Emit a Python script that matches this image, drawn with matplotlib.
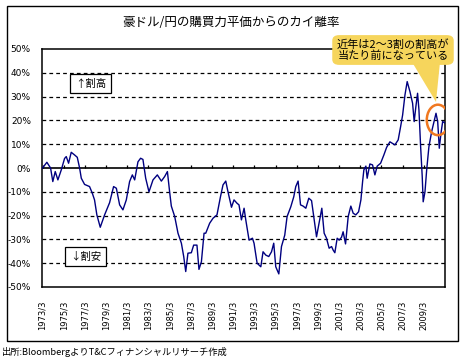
import numpy as np
import matplotlib
matplotlib.use("Agg")
import matplotlib.pyplot as plt
from matplotlib.patches import Rectangle, FancyBboxPatch, Polygon, Ellipse

plt.rcParams['font.family'] = ['Noto Sans CJK JP', 'DejaVu Sans']

# データ (年の小数表示, カイ離率 %)
years = [1973.25, 1973.66, 1974.01, 1974.22, 1974.45, 1974.70, 1975.02, 1975.33, 1975.49, 1975.71,
         1975.96, 1976.27, 1976.53, 1976.75, 1976.91, 1977.22, 1977.69, 1977.95, 1978.16, 1978.38,
         1978.70, 1979.11, 1979.58, 1979.96, 1980.22, 1980.53, 1980.84, 1981.16, 1981.47, 1981.73,
         1981.95, 1982.26, 1982.51, 1982.73, 1982.99, 1983.30, 1983.68, 1984.09, 1984.47, 1984.78,
         1985.04, 1985.25, 1985.41, 1985.73, 1986.04, 1986.36, 1986.58, 1986.77, 1986.98, 1987.30,
         1987.52, 1987.83, 1988.02, 1988.25, 1988.50, 1988.66, 1989.03, 1989.35, 1989.72, 1990.05,
         1990.29, 1990.55, 1990.76, 1991.09, 1991.33, 1991.61, 1991.80, 1992.03, 1992.28, 1992.44,
         1992.75, 1993.07, 1993.22, 1993.51, 1993.86, 1994.07, 1994.33, 1994.61, 1994.87, 1995.08,
         1995.27, 1995.56, 1995.81, 1996.12, 1996.34, 1996.69, 1996.97, 1997.16, 1997.38, 1997.61,
         1997.85, 1998.11, 1998.39, 1998.65, 1998.86, 1999.12, 1999.36, 1999.62, 1999.84, 2000.06,
         2000.31, 2000.54, 2000.69, 2000.85, 2001.07, 2001.26, 2001.48, 2001.63, 2001.86, 2002.11,
         2002.36, 2002.58, 2002.83, 2003.09, 2003.31, 2003.47, 2003.59, 2003.78, 2003.90, 2004.16,
         2004.41, 2004.63, 2004.85, 2005.17, 2005.48, 2005.74, 2006.05, 2006.27, 2006.52, 2006.83,
         2007.06, 2007.25, 2007.47, 2007.68, 2007.94, 2008.19, 2008.34, 2008.50, 2008.66, 2008.79,
         2008.95, 2009.10, 2009.19, 2009.36, 2009.52, 2009.73, 2009.99, 2010.21, 2010.40, 2010.56,
         2010.71, 2010.87, 2011.03, 2011.25]
kairi = [0.0, 2.4, 0.0, -5.7, -1.5, -5.0, -0.8, 4.0, 4.8, 2.0,
         6.6, 5.5, 4.5, 0.0, -4.3, -6.9, -7.8, -10.6, -13.4, -19.7,
         -24.9, -19.7, -14.6, -7.8, -8.5, -15.5, -17.6, -13.4, -5.7, -2.9,
         -5.0, 2.6, 4.1, 3.6, -4.3, -10.0, -5.0, -2.9, -5.5, -3.6,
         -1.5, -10.0, -16.0, -20.4, -27.4, -31.6, -37.2, -43.5, -35.8, -35.6,
         -32.4, -32.4, -42.6, -39.4, -27.4, -27.4, -23.2, -21.1, -19.7, -12.1,
         -7.1, -5.5, -10.0, -16.5, -13.4, -14.8, -15.5, -21.8, -16.9, -21.8,
         -30.3, -29.5, -31.6, -40.0, -41.5, -35.2, -36.6, -37.2, -35.2, -31.6,
         -41.5, -44.5, -33.0, -28.2, -20.4, -16.3, -12.1, -7.8, -5.5, -15.5,
         -16.0, -16.9, -12.7, -13.7, -20.4, -28.9, -23.2, -16.9, -27.4, -29.5,
         -33.7, -33.0, -34.5, -35.6, -29.5, -30.3, -29.1, -26.8, -31.9, -20.4,
         -16.0, -19.0, -19.7, -18.4, -13.4, -5.7, -0.8, 0.8, -4.3, 1.7,
         1.3, -2.9, 0.8, 2.0, 5.5, 8.7, 11.0, 10.4, 9.7, 11.8,
         17.4, 22.3, 30.7, 36.3, 32.1, 27.2, 19.5, 25.8, 31.4, 24.4,
         8.9, -3.6, -14.2, -10.0, -0.8, 8.9, 15.3, 19.5, 23.0, 19.5,
         8.3, 14.6, 19.5, 18.9]

tick_years = list(range(1973, 2010, 2))
tick_labels = [f"{y}/3" for y in tick_years]
tick_pos = [y + 0.25 for y in tick_years]
yticks = list(range(-50, 51, 10))

W, H = 468, 362
fig = plt.figure(figsize=(W / 100, H / 100), dpi=100)

def fx(x):
    return x / W

def fy(y):
    return 1 - y / H

ax = fig.add_axes([fx(42), fy(287), (445 - 42) / W, (287 - 49) / H])

ax.plot(years, kairi, color='#000080', lw=1.0, zorder=3)

ax.set_xlim(1973.2, 2011.25)
ax.set_ylim(-50, 50)

# グリッド
for v in yticks:
    if v in (-50, 0, 50):
        continue
    ax.axhline(v, color='black', lw=0.9, ls=(0, (3, 2.5)), zorder=1)
ax.axhline(0, color='black', lw=1.2, zorder=2)
ax.vlines(tick_pos, 0, 1.3, color='black', lw=0.9, zorder=2)

ax.set_yticks(yticks)
ax.set_yticklabels([f"{v}%" for v in yticks], fontsize=6.5, family='DejaVu Sans')
ax.tick_params(axis='y', length=0, pad=8)
ax.set_xticks(tick_pos)
ax.set_xticklabels(tick_labels, rotation=90, fontsize=6, family='DejaVu Sans')
ax.tick_params(axis='x', length=0, pad=10)
for s in ax.spines.values():
    s.set_linewidth(1.1)

# 割高 / 割安
ax.text(1977.8, 35.5, "↑割高", fontsize=7.5, ha='center', va='center',
        bbox=dict(boxstyle='square,pad=0.45', fc='white', ec='black', lw=0.9), zorder=4)
ax.text(1977.3, -37.2, "↓割安", fontsize=7.5, ha='center', va='center',
        bbox=dict(boxstyle='square,pad=0.45', fc='white', ec='black', lw=0.9), zorder=4)

# 丸印
ax.add_patch(Ellipse((2010.58, 20.2), 2.1, 12.8, fill=False, ec='#F07820', lw=1.8, zorder=5))

# タイトル
fig.text(fx(231), fy(22), "豪ドル/円の購買力平価からのカイ離率", fontsize=9, ha='center', va='center')

# 吹き出し
yel = '#F6D55C'
fig.patches.append(Polygon([(fx(412), fy(62)), (fx(440), fy(62)), (fx(436), fy(102))],
                           closed=True, fc=yel, ec='none', transform=fig.transFigure, zorder=6))
fig.patches.append(FancyBboxPatch((fx(336), fy(62)), (450 - 336) / W, (62 - 38) / H,
                                  boxstyle='round,pad=0.008,rounding_size=0.015',
                                  fc=yel, ec='none', transform=fig.transFigure, zorder=6))
fig.text(fx(393), fy(50), "近年は2～3割の割高が\n当たり前になっている", fontsize=8,
         ha='center', va='center', linespacing=1.1, zorder=7)

# 外枠
fig.patches.append(Rectangle((fx(7), fy(341)), (458 - 7) / W, (341 - 6) / H, fill=False,
                             ec='black', lw=1.0, transform=fig.transFigure))

fig.text(fx(2), fy(352), "出所:BloombergよりT&Cフィナンシャルリサーチ作成", fontsize=6.7,
         ha='left', va='center')

fig.savefig('out.png', dpi=100)
